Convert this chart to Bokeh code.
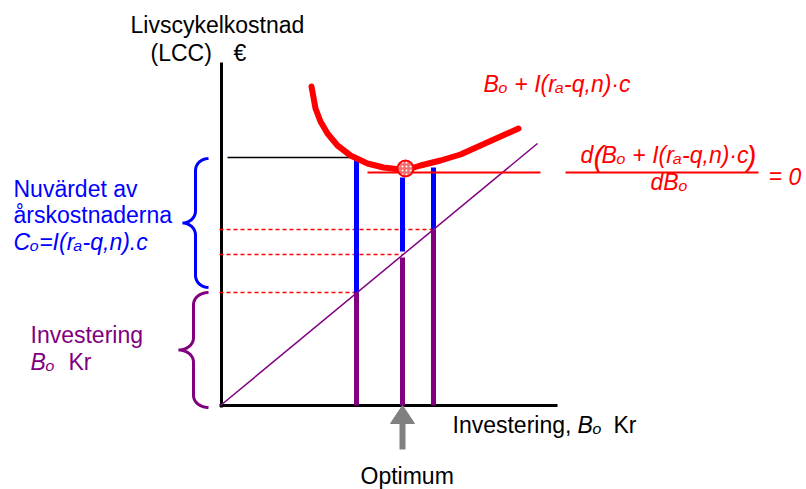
import numpy as np
from bokeh.plotting import figure
from bokeh.models import Range1d
from bokeh.core.properties import value
from bokeh.embed import file_html
from bokeh.resources import INLINE

# ---------------- data (diagram units, origin at axis origin) ----------------
invest_levels = [136, 182, 213]        # B_o of three alternatives (x)
invest_cost = [113, 151, 176]          # investment part (purple)
lcc_total = [246, 228, 238]            # total life-cycle cost (top of blue)
bar_gap = [0, 3, 0]                    # white gap where the diagonal crosses
curve_x = [91, 95, 100, 107, 117, 130, 147, 163, 180, 187, 200, 220, 240, 260, 280, 298]
curve_y = [319, 297, 284, 272, 260, 250, 242, 238, 236, 236, 240, 245, 251, 260, 269, 277]
diag_x = [0, 317]
diag_y = [0, 262]
opt_x = [185]
opt_y = [237]
tangent_x = [147, 320]
tangent_y = [233, 233]
ref_line_x = [7, 133]
ref_line_y = [248, 248]

RED = "#FF0000"
BLUE = "#0000FF"
PURPLE = "#800080"
GRAY = "#808080"
FONT = value("Liberation Sans")

OX, OY = 220, 405  # page position of the origin (for annotations)
W, H = 806, 489


def X(sx):
    return sx - OX


def Y(sy):
    return OY - sy


p = figure(width=W, height=H, x_range=Range1d(X(0), X(W)), y_range=Range1d(Y(H), Y(0)),
           output_backend="svg", toolbar_location=None, min_border=0,
           x_axis_type=None, y_axis_type=None)
p.grid.visible = False
p.outline_line_color = None
p.background_fill_color = "white"
p.border_fill_color = "white"

# axes
p.line([1, 1], [-2, Y(62)], line_color="black", line_width=3)
p.line([-1, X(557)], [0, 0], line_color="black", line_width=3)

# dashed reference lines
p.segment(x0=[-1] * len(invest_levels), y0=invest_cost, x1=invest_levels, y1=invest_cost,
          line_color=RED, line_width=1.4, line_dash="4 3")

# black level line
p.line(ref_line_x, ref_line_y, line_color="black", line_width=1.5)

# bars: purple investment part, blue annual cost part
for bx, inv, tot, g in zip(invest_levels, invest_cost, lcc_total, bar_gap):
    p.segment(x0=[bx], y0=[0], x1=[bx], y1=[inv - g], line_color=PURPLE, line_width=5, line_cap="butt")
    p.segment(x0=[bx], y0=[inv + g], x1=[bx], y1=[tot], line_color=BLUE, line_width=5, line_cap="butt")

# diagonal (investment)
p.line(diag_x, diag_y, line_color=PURPLE, line_width=1.5)

# LCC curve
p.line(curve_x, curve_y, line_color=RED, line_width=6, line_join="round", line_cap="round")

# tangent at optimum
p.line(tangent_x, tangent_y, line_color=RED, line_width=2)

# optimum marker
p.scatter(opt_x, opt_y, size=16, marker="circle", fill_color="#F26D6D", line_color=RED, line_width=2,
          hatch_pattern="dot", hatch_color="white", hatch_scale=4, hatch_weight=1.5)


# Braces
def brace(xr, d, yt, yb, r):
    h = d / 2.0
    ym = (yt + yb) / 2.0
    pts_x, pts_y = [], []

    def arc(cx, cy, a0, a1, rx, ry):
        t = np.linspace(np.radians(a0), np.radians(a1), 12)
        pts_x.extend(cx + rx * np.cos(t))
        pts_y.extend(cy + ry * np.sin(t))

    arc(xr, yt - r, 90, 180, h, r)
    arc(xr - d, ym + r, 0, -90, h, r)
    arc(xr - d, ym - r, 90, 0, h, r)
    arc(xr, yb + r, 180, 270, h, r)
    return pts_x, pts_y


bx_, by_ = brace(X(208), 26, lcc_total[0] + 1, invest_cost[0] + 5, 12)
p.line(bx_, by_, line_color=BLUE, line_width=3)
px_, py_ = brace(X(208), 30, invest_cost[0], -2, 12)
p.line(px_, py_, line_color=PURPLE, line_width=3)

# Optimum arrow
ax = invest_levels[1]
p.patch([ax - 12, ax + 12, ax], [Y(423), Y(423), Y(405)], fill_color=GRAY, line_color=GRAY)
p.quad(left=[ax - 3], right=[ax + 3], top=[Y(423)], bottom=[Y(449)], fill_color=GRAY, line_color=None)


def txt(sx, sy, s, color="black", italic=False, size=23):
    # sy is the wanted baseline on the page; the svg text sits ~0.35em below its anchor
    p.text(x=[X(sx)], y=[Y(sy - 0.35 * size)], text=[s], text_font=FONT, text_font_size=f"{size}px",
           text_color=color, text_baseline="alphabetic", text_align="left",
           text_font_style="italic" if italic else "normal")


# texts
txt(130, 33, "Livscykelkostnad")
txt(150, 61, "(LCC)")
txt(233, 61, "€")

txt(483, 92, "Bₒ + I(rₐ-q,n)·c", RED, True)

txt(580, 163, "d", RED, True)
txt(593, 166, "(", RED, True, 30)
txt(601, 163, "Bₒ + I(rₐ-q,n)·c", RED, True)
txt(746, 166, ")", RED, True, 30)
p.line([X(565), X(758)], [Y(172), Y(172)], line_color=RED, line_width=2)
txt(650, 190, "dBₒ", RED, True)
txt(768, 184, "=", RED, True)
txt(788, 184, "0", RED, True)

txt(13, 197, "Nuvärdet av", BLUE)
txt(13, 223, "årskostnaderna", BLUE)
txt(13, 250, "Cₒ=I(rₐ-q,n).c", BLUE, True)

txt(30, 343, "Investering", PURPLE)
txt(30, 370, "Bₒ", PURPLE, True)
txt(68, 370, "Kr", PURPLE)

txt(452, 433, "Investering, ")
txt(577, 433, "Bₒ", "black", True)
txt(613, 433, "Kr")

txt(360, 484, "Optimum")

open("out.html", "w").write(file_html(p, INLINE))
